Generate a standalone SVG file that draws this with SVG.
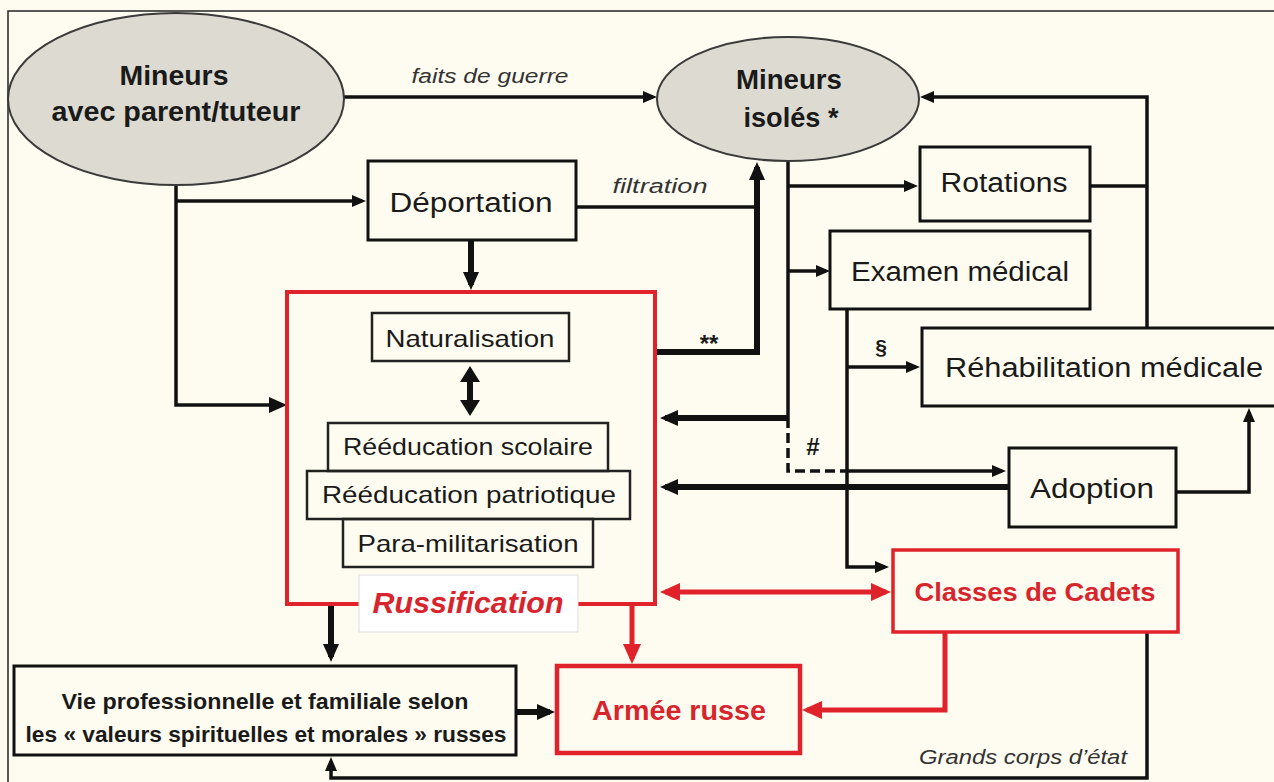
<svg xmlns="http://www.w3.org/2000/svg" width="1274" height="782" viewBox="0 0 1274 782">
<defs>
<style>
.t{font-family:"Liberation Sans",Arial,sans-serif;fill:#1a1a1a;text-anchor:middle}
.b{font-weight:bold}
.i{font-style:italic;fill:#333}
.r{fill:#d8242c}
.box{fill:none;stroke:#111;stroke-width:3}
.ibox{fill:none;stroke:#222;stroke-width:2.5}
.rbox{fill:none;stroke:#e0232b}
.ln{fill:none;stroke:#111;stroke-width:3.5}
.th{fill:none;stroke:#111;stroke-width:6}
.rl{fill:none;stroke:#e0232b;stroke-width:5}
.ell{fill:#dddbd1;stroke:#3a3a3a;stroke-width:2}
</style>
<marker id="ah" markerUnits="userSpaceOnUse" markerWidth="14" markerHeight="12" refX="10" refY="6" orient="auto"><path d="M0,0 L14,6 L0,12 z" fill="#111"/></marker>
<marker id="ahb" markerUnits="userSpaceOnUse" markerWidth="18" markerHeight="16" refX="13" refY="8" orient="auto-start-reverse"><path d="M0,0 L18,8 L0,16 z" fill="#111"/></marker>
<marker id="ahw" markerUnits="userSpaceOnUse" markerWidth="16" markerHeight="20" refX="11" refY="10" orient="auto-start-reverse"><path d="M0,0 L16,10 L0,20 z" fill="#111"/></marker>
<marker id="ahr" markerUnits="userSpaceOnUse" markerWidth="20" markerHeight="18" refX="15" refY="9" orient="auto-start-reverse"><path d="M0,0 L20,9 L0,18 z" fill="#e0232b"/></marker>
</defs>
<rect x="0" y="0" width="1274" height="782" fill="#fefcf0"/>
<path d="M8,782 V11 H1274" fill="none" stroke="#222" stroke-width="1.5"/>

<g id="connectors">
<path class="ln" d="M344,97 H653" marker-end="url(#ah)"/>
<path class="ln" d="M1147,328 V97 H924" marker-end="url(#ah)"/>
<path class="ln" d="M1090,186 H1147"/>
<path class="ln" d="M176,185 V405 H282" marker-end="url(#ahb)"/>
<path class="ln" d="M176,201 H362" marker-end="url(#ah)"/>
<path class="th" d="M471,240 V285" marker-end="url(#ahb)"/>
<path class="ln" d="M576,207 H757"/>
<path class="th" d="M655,352 H757 V167" marker-end="url(#ahb)"/>
<path class="ln" d="M788,161 V418"/>
<path class="th" d="M788,418 H665" marker-end="url(#ahb)"/>
<path class="ln" d="M788,186 H914" marker-end="url(#ah)"/>
<path class="ln" d="M788,271 H826" marker-end="url(#ah)"/>
<path class="ln" d="M788,418 V471 H842" stroke-dasharray="10 5"/>
<path class="ln" d="M842,471 H1002" marker-end="url(#ah)"/>
<path class="th" d="M1009,487 H665" marker-end="url(#ahb)"/>
<path class="ln" d="M847,309 V567 H885" marker-end="url(#ah)"/>
<path class="ln" d="M847,367 H916" marker-end="url(#ah)"/>
<path class="ln" d="M1176,492 H1249 V412" marker-end="url(#ah)"/>
<path class="th" d="M470,371 V411" marker-start="url(#ahw)" marker-end="url(#ahw)"/>
<path class="rl" d="M665,592 H886" marker-start="url(#ahr)" marker-end="url(#ahr)"/>
<path class="rl" d="M945,632 V710 H807" marker-end="url(#ahr)"/>
<path class="rl" d="M632,604 V659" marker-end="url(#ahr)"/>
<path class="th" d="M331,604 V657" marker-end="url(#ahb)"/>
<path class="th" d="M516,712 H550" marker-end="url(#ahb)"/>
<path class="ln" d="M1147,632 V778 H331 V761" marker-end="url(#ah)"/>
</g>

<g id="n-mineurs-parent">
<ellipse class="ell" cx="176" cy="99" rx="168" ry="86"/>
<text class="t b" x="174" y="85" font-size="27" textLength="109" lengthAdjust="spacingAndGlyphs">Mineurs</text>
<text class="t b" x="176" y="121" font-size="27" textLength="249" lengthAdjust="spacingAndGlyphs">avec parent/tuteur</text>
</g>
<g id="l-faits"><text class="t i" x="490" y="83" font-size="20" textLength="157" lengthAdjust="spacingAndGlyphs">faits de guerre</text></g>
<g id="l-filtration"><text class="t i" x="660" y="193" font-size="20" textLength="95" lengthAdjust="spacingAndGlyphs">filtration</text></g>

<g id="n-mineurs-isoles">
<ellipse class="ell" cx="788" cy="99" rx="131" ry="62"/>
<text class="t b" x="789" y="89" font-size="27" textLength="106" lengthAdjust="spacingAndGlyphs">Mineurs</text>
<text class="t b" x="791" y="127" font-size="27" textLength="95" lengthAdjust="spacingAndGlyphs">isolés *</text>
</g>

<g id="n-deportation">
<rect class="box" x="368" y="161" width="208" height="79"/>
<text class="t" x="471" y="212" font-size="27" textLength="163" lengthAdjust="spacingAndGlyphs">Déportation</text>
</g>

<g id="n-rotations">
<rect class="box" x="920" y="147" width="170" height="74"/>
<text class="t" x="1004" y="192" font-size="27" textLength="127" lengthAdjust="spacingAndGlyphs">Rotations</text>
</g>

<g id="n-examen">
<rect class="box" x="830" y="231" width="260" height="78"/>
<text class="t" x="960" y="281" font-size="27" textLength="218" lengthAdjust="spacingAndGlyphs">Examen médical</text>
</g>

<g id="n-rehab">
<rect class="box" x="922" y="328" width="362" height="78"/>
<text class="t" x="1104" y="377" font-size="27" textLength="318" lengthAdjust="spacingAndGlyphs">Réhabilitation médicale</text>
</g>

<g id="n-adoption">
<rect class="box" x="1009" y="448" width="167" height="79"/>
<text class="t" x="1092" y="498" font-size="28" textLength="124" lengthAdjust="spacingAndGlyphs">Adoption</text>
</g>

<g id="n-russification">
<rect class="rbox" x="287" y="292" width="368" height="312" stroke-width="4"/>
<rect class="ibox" x="372" y="313" width="197" height="48"/>
<text class="t" x="470" y="347" font-size="24" textLength="169" lengthAdjust="spacingAndGlyphs">Naturalisation</text>
<rect class="ibox" x="328" y="423" width="280" height="48"/>
<text class="t" x="468" y="455" font-size="24" textLength="250" lengthAdjust="spacingAndGlyphs">Rééducation scolaire</text>
<rect class="ibox" x="307" y="471" width="323" height="48"/>
<text class="t" x="469" y="503" font-size="24" textLength="294" lengthAdjust="spacingAndGlyphs">Rééducation patriotique</text>
<rect class="ibox" x="343" y="519" width="250" height="48"/>
<text class="t" x="468" y="552" font-size="24" textLength="221" lengthAdjust="spacingAndGlyphs">Para-militarisation</text>
<rect x="359" y="575" width="219" height="57" fill="#ffffff" stroke="#dddddd" stroke-width="1"/>
<text class="t b r" x="468" y="613" font-size="30" font-style="italic" textLength="191" lengthAdjust="spacingAndGlyphs">Russification</text>
</g>

<g id="l-marks">
<text class="t b" x="709" y="352" font-size="24">**</text>
<text class="t b" x="881" y="354" font-size="21">§</text>
<text class="t b" x="813" y="455" font-size="24">#</text>
</g>

<g id="n-cadets">
<rect class="rbox" x="893" y="550" width="285" height="82" stroke-width="3.5"/>
<text class="t b r" x="1035" y="601" font-size="26" textLength="241" lengthAdjust="spacingAndGlyphs">Classes de Cadets</text>
</g>

<g id="n-armee">
<rect class="rbox" x="557" y="666" width="243" height="87" stroke-width="4.5"/>
<text class="t b r" x="679" y="720" font-size="27" textLength="174" lengthAdjust="spacingAndGlyphs">Armée russe</text>
</g>

<g id="n-vie">
<rect class="box" x="14" y="666" width="502" height="89" stroke-width="4"/>
<text class="t b" x="265" y="709" font-size="22" textLength="407" lengthAdjust="spacingAndGlyphs">Vie professionnelle et familiale selon</text>
<text class="t b" x="266" y="742" font-size="22" textLength="481" lengthAdjust="spacingAndGlyphs">les « valeurs spirituelles et morales » russes</text>
</g>

<g id="l-grands"><text class="t i" x="1023" y="764" font-size="20" textLength="208" lengthAdjust="spacingAndGlyphs">Grands corps d’état</text></g>
</svg>
